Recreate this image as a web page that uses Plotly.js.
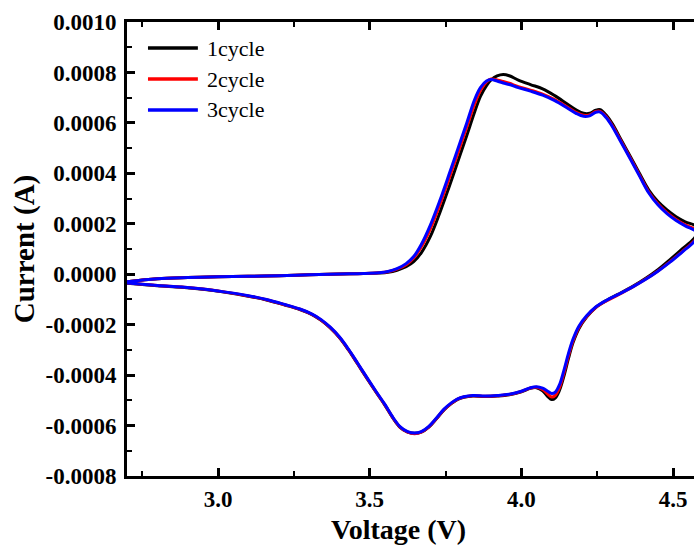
<!DOCTYPE html>
<html>
<head>
<meta charset="utf-8">
<script src="https://cdn.plot.ly/plotly-3.0.1.min.js"></script>
<style>html,body{margin:0;padding:0;overflow:hidden;background:#fff}</style>
</head>
<body>
<div id="chart"></div>
<script>
// Series names and colours
const cycleNames = ["1cycle", "2cycle", "3cycle"];
const cycleColors = ["#000000", "#ff0000", "#0000ff"];

// Voltage (V) of the forward (anodic) sweep, then the reverse (cathodic) sweep
const voltageForward = [2.70, 2.80, 2.90, 3.00, 3.10, 3.20, 3.30, 3.40, 3.48, 3.53, 3.56, 3.59, 3.62, 3.645, 3.67, 3.70, 3.73, 3.76, 3.79, 3.82, 3.845, 3.865, 3.885, 3.90, 3.92, 3.94, 3.96, 3.99, 4.03, 4.07, 4.11, 4.15, 4.18, 4.205, 4.225, 4.245, 4.26, 4.28, 4.30, 4.33, 4.36, 4.39, 4.42, 4.45, 4.48, 4.51, 4.54, 4.57, 4.59];
const voltageReverse = [4.566, 4.53, 4.49, 4.45, 4.41, 4.37, 4.32, 4.28, 4.245, 4.215, 4.19, 4.17, 4.155, 4.14, 4.125, 4.112, 4.10, 4.088, 4.07, 4.05, 4.03, 4.00, 3.96, 3.92, 3.88, 3.84, 3.81, 3.79, 3.77, 3.745, 3.72, 3.695, 3.67, 3.648, 3.625, 3.60, 3.578, 3.55, 3.52, 3.49, 3.46, 3.43, 3.40, 3.37, 3.34, 3.31, 3.27, 3.22, 3.16, 3.10, 3.02, 2.95, 2.88, 2.80, 2.70];

// Current in microamperes, cycle 1 (black)
const cycle1Forward = [-30, -18, -13, -10, -8, -6, -2, 1, 3, 5, 8, 16, 30, 50, 85, 150, 240, 340, 445, 550, 640, 705, 748, 770, 786, 792, 787, 770, 752, 735, 708, 676, 652, 638, 638, 650, 652, 630, 596, 530, 465, 398, 334, 288, 255, 228, 208, 195, 180];
const cycle1Reverse = [138, 100, 58, 18, -16, -46, -79, -104, -132, -170, -215, -272, -335, -405, -462, -490, -497, -486, -462, -450, -452, -466, -478, -483, -485, -483, -488, -496, -512, -538, -573, -606, -626, -631, -626, -607, -573, -519, -466, -411, -355, -300, -251, -213, -183, -160, -140, -122, -102, -87, -71, -60, -52, -46, -36];

// Cycle 2 (red)
const cycle2Forward = [-30, -18, -13, -10, -8, -6, -2, 1, 3, 6, 10, 20, 38, 64, 108, 180, 272, 374, 478, 584, 672, 728, 762, 774, 770, 764, 757, 744, 730, 714, 692, 664, 642, 630, 632, 645, 646, 624, 589, 524, 459, 392, 326, 279, 244, 217, 196, 180, 165];
const cycle2Reverse = [128, 90, 50, 13, -19, -48, -81, -106, -132, -168, -210, -265, -325, -393, -452, -480, -487, -476, -457, -448, -451, -465, -477, -482, -484, -482, -487, -495, -511, -537, -572, -605, -626, -632, -626, -606, -572, -518, -465, -410, -354, -299, -250, -212, -182, -159, -139, -121, -101, -86, -70, -59, -51, -45, -35];

// Cycle 3 (blue)
const cycle3Forward = [-30, -18, -13, -10, -8, -6, -2, 1, 3, 6, 11, 22, 42, 70, 118, 195, 288, 390, 495, 600, 690, 740, 766, 772, 766, 758, 752, 740, 726, 710, 688, 660, 638, 626, 628, 642, 643, 620, 585, 520, 455, 388, 322, 275, 240, 213, 192, 175, 160];
const cycle3Reverse = [125, 88, 48, 12, -20, -48, -80, -104, -130, -165, -205, -258, -315, -382, -440, -467, -473, -465, -452, -446, -450, -464, -476, -481, -483, -481, -486, -494, -509, -535, -570, -603, -624, -630, -624, -604, -570, -516, -463, -408, -352, -297, -248, -210, -180, -158, -138, -120, -100, -85, -70, -59, -51, -45, -35];

// Tick labels
const xTickVals = [3.0, 3.5, 4.0, 4.5];
const xTickText = ["3.0", "3.5", "4.0", "4.5"];
const yTickVals = [-0.0008, -0.0006, -0.0004, -0.0002, 0.0, 0.0002, 0.0004, 0.0006, 0.0008, 0.0010];
const yTickText = ["-0.0008", "-0.0006", "-0.0004", "-0.0002", "0.0000", "0.0002", "0.0004", "0.0006", "0.0008", "0.0010"];

const uA = v => v * 1e-6;
const loops = [
  [cycle1Forward, cycle1Reverse],
  [cycle2Forward, cycle2Reverse],
  [cycle3Forward, cycle3Reverse]
];
const traces = loops.map((p, k) => ({
  x: voltageForward.concat(voltageReverse),
  y: p[0].concat(p[1]).map(uA),
  name: cycleNames[k], type: "scatter", mode: "lines", showlegend: false,
  line: {color: cycleColors[k], width: 3, shape: "spline", smoothing: 1}
}));

// Legend drawn in paper coordinates (line sample + label per series)
const legendRowY = [0.9427, 0.8744, 0.8062];
const shapes = cycleNames.map((n, k) => ({
  type: "line", xref: "paper", yref: "paper",
  x0: 0.037, x1: 0.125, y0: legendRowY[k], y1: legendRowY[k],
  line: {color: cycleColors[k], width: 3.5}
}));
const serifFamily = "Liberation Serif";
const annotations = cycleNames.map((n, k) => ({
  xref: "paper", yref: "paper", x: 0.1376, y: legendRowY[k],
  xanchor: "left", yanchor: "middle", showarrow: false, text: n,
  font: {family: serifFamily, size: 22, color: "#000"}
}));
annotations.push({
  xref: "paper", yref: "paper", x: 0.4797, y: -0.118,
  xanchor: "center", yanchor: "middle", showarrow: false, text: "Voltage (V)",
  font: {family: serifFamily, size: 28, color: "#000", weight: "bold"}
});

const layout = {
  width: 694, height: 546,
  margin: {l: 127, r: 0, t: 22, b: 70},
  paper_bgcolor: "#fff", plot_bgcolor: "#fff",
  font: {family: serifFamily, size: 22, color: "#000"},
  showlegend: false,
  shapes: shapes,
  annotations: annotations,
  xaxis: {
    range: [2.7, 4.569], showgrid: false, zeroline: false,
    showline: true, linecolor: "#000", linewidth: 3, mirror: "ticks",
    ticks: "inside", ticklen: 8, tickwidth: 2.5, tickcolor: "#000",
    tickmode: "array", tickvals: xTickVals, ticktext: xTickText,
    tickfont: {family: serifFamily, size: 23, color: "#000", weight: "bold"},
    minor: {dtick: 0.25, tick0: 2.75, ticks: "inside", ticklen: 5, tickwidth: 2, tickcolor: "#000", showgrid: false}
  },
  yaxis: {
    range: [-0.0008, 0.0010], showgrid: false, zeroline: false,
    showline: true, linecolor: "#000", linewidth: 3, mirror: false,
    ticks: "inside", ticklen: 8, tickwidth: 2.5, tickcolor: "#000",
    tickmode: "array", tickvals: yTickVals, ticktext: yTickText, ticklabelstandoff: 3,
    tickfont: {family: serifFamily, size: 23, color: "#000", weight: "bold"},
    minor: {dtick: 0.0001, tick0: 0, ticks: "inside", ticklen: 5, tickwidth: 2, tickcolor: "#000", showgrid: false},
    title: {text: "Current (A)", font: {family: serifFamily, size: 29, color: "#000", weight: "bold"}, standoff: 3}
  }
};
Plotly.newPlot("chart", traces, layout, {displayModeBar: false});
</script>
</body>
</html>
